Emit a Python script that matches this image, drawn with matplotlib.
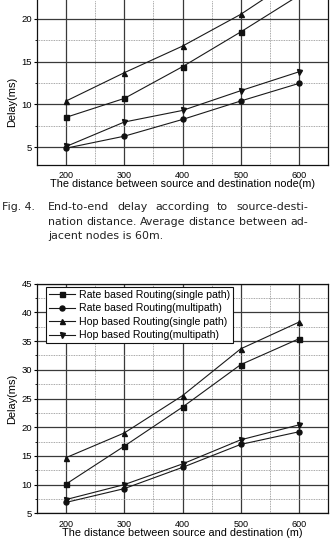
import matplotlib
matplotlib.use("Agg")
import matplotlib.pyplot as plt
from matplotlib.ticker import MultipleLocator

# ---------------------------------------------------------------------------
# Data
# ---------------------------------------------------------------------------
distance = [200, 300, 400, 500, 600]

# Fig. 4 (top, cut off by the scan): delay vs. source-destination node distance
rate_single_node = [8.5, 10.7, 14.4, 18.45, 22.7]
rate_multi_node = [4.9, 6.3, 8.25, 10.4, 12.45]
hop_single_node = [10.4, 13.7, 16.8, 20.5, 25.0]
hop_multi_node = [5.1, 7.95, 9.3, 11.6, 13.8]

# Fig. 5 (bottom): delay vs. source-destination distance
rate_single = [10.1, 16.7, 23.5, 30.9, 35.4]
rate_multi = [6.9, 9.3, 13.0, 17.0, 19.2]
hop_single = [14.7, 19.0, 25.5, 33.65, 38.3]
hop_multi = [7.4, 10.0, 13.6, 17.8, 20.4]

labels = [
    "Rate based Routing(single path)",
    "Rate based Routing(multipath)",
    "Hop based Routing(single path)",
    "Hop based Routing(multipath)",
]
markers = ["s", "o", "^", "v"]

caption_head = "Fig. 4."
caption_lines = [
    "End-to-end delay according to source-desti-",
    "nation distance. Average distance between ad-",
    "jacent nodes is 60m.",
]

plt.rcParams["font.family"] = ["Liberation Sans", "DejaVu Sans"]

W, H = 333, 540
fig = plt.figure(figsize=(W / 100, H / 100), dpi=100)


def px_axes(left, right, top, bottom):
    return fig.add_axes([left / W, 1 - bottom / H, (right - left) / W, (bottom - top) / H])


def style_axis(ax, ylim, xlabel):
    ax.set_xlim(150, 650)
    ax.set_ylim(*ylim)
    ax.xaxis.set_major_locator(MultipleLocator(100))
    ax.xaxis.set_minor_locator(MultipleLocator(50))
    ax.yaxis.set_major_locator(MultipleLocator(5))
    ax.yaxis.set_minor_locator(MultipleLocator(2.5))
    ax.grid(True, which="major", color="#3a3a3a", lw=0.9, ls="-")
    ax.grid(True, which="minor", color="#8a8a8a", lw=0.6, ls=(0, (1, 1)))
    ax.set_axisbelow(True)
    ax.tick_params(axis="x", which="both", length=0, pad=4.5, labelsize=6.5)
    ax.tick_params(axis="y", which="major", direction="out", length=2.4,
                   width=0.8, pad=1, labelsize=6.8)
    ax.tick_params(axis="y", which="minor", direction="out", length=1.6, width=0.6)
    for s in ax.spines.values():
        s.set_linewidth(0.9)
        s.set_color("#111111")
    ax.set_xlabel(xlabel, fontsize=7.8, labelpad=-0.5)
    ax.set_ylabel("Delay(ms)", fontsize=7.9)


def draw_series(ax, series, clip=True):
    for y, m, lab in zip(series, markers, labels):
        ax.plot(distance, y, color="#1a1a1a", lw=0.8, marker=m, ms=3.6,
                mec="#111111", mfc="#111111", label=lab, clip_on=clip)


# Top chart: the scan only shows its lower part (legend is off the page)
ax1 = px_axes(37, 328, 0, 164.5)
draw_series(ax1, [rate_single_node, rate_multi_node, hop_single_node, hop_multi_node])
style_axis(ax1, (3, 3 + 164.5 / 8.58), "The distance between source and destination node(m)")
ax1.spines["top"].set_visible(False)
ax1.yaxis.set_label_coords(-0.07, 0.38)

# Bottom chart
ax2 = px_axes(37, 328, 283.7, 513.3)
draw_series(ax2, [rate_single, rate_multi, hop_single, hop_multi], clip=False)
style_axis(ax2, (5, 45), "The distance between source and destination (m)")
ax2.yaxis.set_label_coords(-0.07, 0.5)
leg = ax2.legend(loc="upper left", bbox_to_anchor=(9 / 291, 1 - 3 / 229.6),
                 borderaxespad=0, fontsize=7.6, frameon=True, fancybox=False,
                 framealpha=1, edgecolor="#111111", handlelength=2.5,
                 handletextpad=0.3, labelspacing=0.34, borderpad=0.28)
leg.get_frame().set_linewidth(0.8)

# Caption between the two charts (first two lines justified like the print)
cap_kw = dict(fontsize=7.9, color="#222222", va="center", family="DejaVu Sans")
renderer = fig.canvas.get_renderer()
x0, x1 = 48, 308
for i, line in enumerate(caption_lines):
    y = 1 - (207.5 + 14.3 * i) / H
    if i == 0:
        fig.text(2 / W, y, caption_head, **cap_kw)
    words = line.split(" ")
    if i == len(caption_lines) - 1:
        fig.text(x0 / W, y, line, **cap_kw)
        continue
    texts = [fig.text(0, y, w, **cap_kw) for w in words]
    widths = [t.get_window_extent(renderer).width for t in texts]
    gap = (x1 - x0 - sum(widths)) / (len(words) - 1)
    x = x0
    for t, w in zip(texts, widths):
        t.set_x(x / W)
        x += w + gap

fig.savefig("out.png", dpi=100)
